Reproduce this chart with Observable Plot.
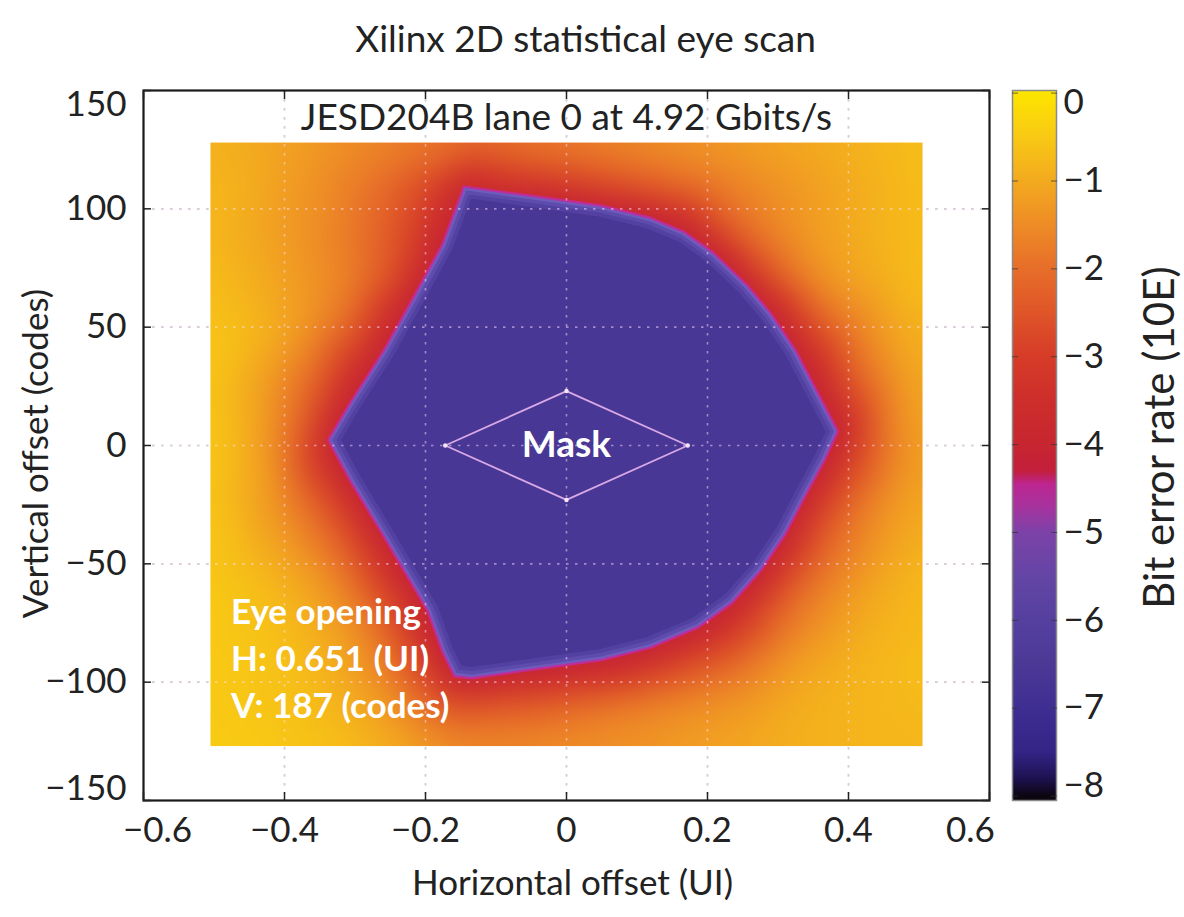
<!DOCTYPE html>
<html><head><meta charset="utf-8">
<script src="https://cdn.jsdelivr.net/npm/d3@7"></script>
<script src="https://cdn.jsdelivr.net/npm/@observablehq/plot@0.6"></script>
<style>
html,body{margin:0;padding:0;background:#fff;overflow:hidden;}
#wrap{position:relative;width:1184px;height:917px;}
#wrap svg{position:absolute;left:0;top:0;}
</style></head><body><div id="wrap"></div>
<script>
// ---------- texts ----------
const title = "Xilinx 2D statistical eye scan";
const subtitle = "JESD204B lane 0 at 4.92 Gbits/s";
const xLabel = "Horizontal offset (UI)";
const yLabel = "Vertical offset (codes)";
const cbLabel = "Bit error rate (10E)";
const eyeText = "Eye opening\nH: 0.651 (UI)\nV: 187 (codes)";
const maskText = "Mask";

// ---------- axes / ticks ----------
const xDomain = [-0.6, 0.6];
const yDomain = [-150, 150];
const cbDomain = [-8.05, 0.03];
const xTicks = [-0.6, -0.4, -0.2, 0, 0.2, 0.4, 0.6];
const yTicks = [-150, -100, -50, 0, 50, 100, 150];
const cbTicks = [-8, -7, -6, -5, -4, -3, -2, -1, 0];

// ---------- heat map samples: log10(BER), null = inside the eye ----------
const heatExtentX = [-0.505, 0.505];
const heatExtentY = [-127, 128];
const heatX = [-0.505, -0.45, -0.4, -0.35, -0.3, -0.25, -0.2, -0.15, -0.1, -0.05, 0, 0.05, 0.1, 0.15, 0.2, 0.25, 0.3, 0.35, 0.4, 0.45, 0.505];
const heatY = [128, 110, 90, 70, 50, 25, 0, -25, -50, -70, -90, -110, -127];
const _ = null;
const heatBER = [
  [-0.9, -1.0, -1.15, -1.3, -1.5, -1.65, -1.8, -1.9, -1.9, -1.8, -1.7, -1.6, -1.5, -1.4, -1.3, -1.2, -1.1, -1.0, -0.9, -0.8, -0.7],
  [-0.8, -0.95, -1.2, -1.45, -1.75, -2.15, -2.7, -3.7, -3.5, -3.2, -3.0, -2.7, -2.4, -2.1, -1.85, -1.6, -1.4, -1.2, -1.0, -0.85, -0.7],
  [-0.8, -1.0, -1.25, -1.5, -1.85, -2.4, -3.2, _, _, _, _, _, _, _, -3.2, -2.1, -1.6, -1.25, -1.0, -0.85, -0.7],
  [-0.7, -0.9, -1.15, -1.45, -1.75, -2.5, _, _, _, _, _, _, _, _, _, -4.1, -2.4, -1.5, -1.15, -0.9, -0.7],
  [-0.6, -0.75, -1.05, -1.55, -2.3, -3.9, _, _, _, _, _, _, _, _, _, _, _, -2.7, -1.8, -1.2, -0.85],
  [-0.55, -1.0, -1.6, -2.4, -3.9, _, _, _, _, _, _, _, _, _, _, _, _, -4.2, -2.6, -1.7, -1.0],
  [-0.5, -0.95, -1.8, -3.5, _, _, _, _, _, _, _, _, _, _, _, _, _, _, -3.3, -1.9, -1.1],
  [-0.55, -1.0, -1.5, -2.3, -3.6, _, _, _, _, _, _, _, _, _, _, _, _, -3.4, -2.1, -1.4, -1.0],
  [-0.55, -0.75, -1.0, -1.5, -2.3, -3.7, _, _, _, _, _, _, _, _, _, _, -3.6, -2.2, -1.6, -1.1, -0.8],
  [-0.5, -0.6, -0.75, -1.05, -1.6, -2.5, -4.2, _, _, _, _, _, _, _, _, -3.4, -2.2, -1.6, -1.15, -0.9, -0.75],
  [-0.5, -0.55, -0.65, -0.85, -1.2, -1.9, -3.1, _, _, _, _, _, -3.8, -3.2, -2.6, -2.1, -1.5, -1.1, -0.9, -0.8, -0.7],
  [-0.5, -0.55, -0.6, -0.75, -0.95, -1.3, -2.0, -2.6, -2.4, -2.3, -2.1, -1.9, -1.7, -1.55, -1.4, -1.3, -1.05, -0.9, -0.85, -0.8, -0.75],
  [-0.45, -0.5, -0.55, -0.6, -0.75, -0.9, -1.2, -1.45, -1.5, -1.5, -1.45, -1.4, -1.35, -1.25, -1.15, -1.05, -0.95, -0.9, -0.85, -0.8, -0.8]
];

// ---------- eye boundary ----------
const eyeX = [-0.146, -0.053, 0.050, 0.119, 0.167, 0.208, 0.256, 0.290, 0.325, 0.352, 0.385, 0.366, 0.338, 0.311, 0.276, 0.235, 0.187, 0.119, 0.050, -0.053, -0.135, -0.159, -0.176, -0.197, -0.231, -0.265, -0.307, -0.338, -0.307, -0.259, -0.217, -0.176, -0.149];
const eyeY = [109.4, 105.6, 101.3, 96.2, 90.2, 81.5, 67.8, 55.8, 40.2, 24.8, 6.0, -6.3, -21.7, -37.2, -52.7, -66.5, -76.8, -85.4, -90.6, -94.9, -98.3, -97.5, -87.2, -69.9, -52.7, -35.5, -14.8, 2.4, 17.9, 40.2, 62.6, 85.0, 106.5];
const eyeEdgeBER = -4.2;
const eyeInsideBER = -6.6;

// ---------- mask & annotation anchors ----------
const maskX = [-0.172, 0, 0.172, 0];
const maskY = [0, 23, 0, -23];
const maskLabelPos = [0, 0];
const eyeTextPos = [-0.476, -89];

// ---------- colour palette ----------
const colorDomain = [-8, -7.8, -7.5, -7, -6.5, -6, -5.5, -5, -4.7, -4.45, -4.3, -4, -3.5, -3, -2.5, -2, -1.5, -1, -0.5, 0];
const colorRange = ["#0b0610", "#1e1250", "#332486", "#3f2e92", "#4c3996", "#55409f", "#6445a5", "#7c42a8", "#a8339e", "#bd2690", "#c31f3c", "#c72630", "#cd2e2b", "#d63c28", "#df5528", "#e76e29", "#ee8c26", "#f3aa1f", "#f8c914", "#fde500"];

const FONT = "Lato, 'Open Sans', sans-serif";
const tickFont = 35;
const haloWide = "#7d6ad0", haloMid = "#8070d2", haloNarrow = "#8b7ad8";
const fmt = d3.format("");
const colorOpts = {type: "linear", domain: colorDomain, range: colorRange, clamp: true, interpolate: "rgb"};
const colorOf = d3.scaleLinear(colorDomain, colorRange).clamp(true);

// build tables
const heatPoints = [];
heatY.forEach((y, i) => heatX.forEach((x, j) => {
  const v = heatBER[i][j];
  if (v != null) heatPoints.push({x, y, v});
}));
const eye = eyeX.map((x, i) => ({x, y: eyeY[i]}));
eye.forEach(p => heatPoints.push({x: p.x, y: p.y, v: eyeEdgeBER}));
const mask = maskX.map((x, i) => ({x, y: maskY[i]}));

const innerX = xTicks.slice(1, -1), innerY = yTicks.slice(1, -1), innerCb = cbTicks.slice(1, -1);
const gridStyle = {strokeDasharray: "2.5,6.5", strokeWidth: 1.6};

const main = Plot.plot({
  width: 1184, height: 917,
  marginLeft: 143, marginRight: 195, marginTop: 90, marginBottom: 117,
  x: {domain: xDomain, axis: null},
  y: {domain: yDomain, axis: null},
  color: colorOpts,
  style: {fontFamily: FONT, background: "#fff", color: "#222"},
  marks: [
    Plot.gridX(innerX, {...gridStyle, stroke: "#b5b5b5", strokeOpacity: 1}),
    Plot.gridY(innerY, {...gridStyle, stroke: "#b5b5b5", strokeOpacity: 1}),
    Plot.raster(heatPoints, {x: "x", y: "y", fill: "v", interpolate: "barycentric", blur: 14,
      x1: heatExtentX[0], x2: heatExtentX[1], y1: heatExtentY[0], y2: heatExtentY[1]}),
    Plot.line(eye, {x: "x", y: "y", curve: "linear-closed", fill: colorOf(eyeInsideBER), stroke: "none"}),
    Plot.line(eye, {x: "x", y: "y", curve: "linear-closed", stroke: haloWide, strokeWidth: 22, strokeOpacity: 0.2}),
    Plot.line(eye, {x: "x", y: "y", curve: "linear-closed", stroke: haloMid, strokeWidth: 14, strokeOpacity: 0.25}),
    Plot.line(eye, {x: "x", y: "y", curve: "linear-closed", stroke: haloNarrow, strokeWidth: 7, strokeOpacity: 0.35}),
    Plot.line(eye, {x: "x", y: "y", curve: "linear-closed", stroke: "#c42a9c", strokeWidth: 2.5, strokeOpacity: 0.85}),
    Plot.gridX(innerX, {...gridStyle, stroke: "#ffe0ff", strokeOpacity: 0.5}),
    Plot.gridY(innerY, {...gridStyle, stroke: "#ffe0ff", strokeOpacity: 0.5}),
    Plot.line(mask, {x: "x", y: "y", curve: "linear-closed", stroke: "#d9a8e6", strokeWidth: 1.8}),
    Plot.dot(mask, {x: "x", y: "y", r: 2.2, fill: "#f3e6f7"}),
    Plot.text([maskText], {x: maskLabelPos[0], y: maskLabelPos[1], fill: "white", fontWeight: "bold", fontSize: 37}),
    Plot.text([eyeText], {x: eyeTextPos[0], y: eyeTextPos[1], fill: "white", fontWeight: "bold", fontSize: 35, textAnchor: "start", lineAnchor: "middle", lineHeight: 1.34}),
    Plot.text([subtitle], {frameAnchor: "top", dy: 13, fontSize: 37, fill: "#222", textAnchor: "middle"}),
    Plot.frame({stroke: "#1a1a1a", strokeWidth: 2.2}),
    Plot.axisX(xTicks, {anchor: "bottom", tickSize: -8, tickFormat: () => "", label: null, strokeWidth: 1.5}),
    Plot.axisX(xTicks, {anchor: "top", tickSize: -8, tickFormat: () => "", label: null, strokeWidth: 1.5}),
    Plot.axisY(yTicks, {anchor: "left", tickSize: -8, tickFormat: () => "", label: null, strokeWidth: 1.5}),
    Plot.axisY(yTicks, {anchor: "right", tickSize: -8, tickFormat: () => "", label: null, strokeWidth: 1.5}),
    Plot.axisX(innerX, {anchor: "bottom", tickSize: 0, tickPadding: 17, fontSize: tickFont, tickFormat: fmt, label: null, fill: "#222"}),
    Plot.axisY(innerY, {anchor: "left", tickSize: 0, tickPadding: 17, fontSize: tickFont, tickFormat: fmt, label: null, fill: "#222"}),
    Plot.text([xTicks[0]], {x: d => d, y: yDomain[0], text: fmt, dy: 17, dx: 14, lineAnchor: "top", fontSize: tickFont, fill: "#222"}),
    Plot.text([xTicks[xTicks.length - 1]], {x: d => d, y: yDomain[0], text: fmt, dy: 17, dx: -19, lineAnchor: "top", fontSize: tickFont, fill: "#222"}),
    Plot.text([yTicks[0]], {x: xDomain[0], y: d => d, text: fmt, dx: -17, dy: -12, textAnchor: "end", fontSize: tickFont, fill: "#222"}),
    Plot.text([yTicks[yTicks.length - 1]], {x: xDomain[0], y: d => d, text: fmt, dx: -17, dy: 14, textAnchor: "end", fontSize: tickFont, fill: "#222"}),
    Plot.text([xLabel], {frameAnchor: "bottom", dy: 94, dx: 6, fontSize: 35, fill: "#222", textAnchor: "middle"}),
    Plot.text([yLabel], {frameAnchor: "left", dx: -107, dy: 8, rotate: -90, fontSize: 35, fill: "#222", textAnchor: "middle"}),
    Plot.text([title], {frameAnchor: "top", dy: -65, dx: 19, fontSize: 37, fill: "#222", textAnchor: "middle"})
  ]
});

// clip the halo strokes to the inside of the eye (so the lighter rim lies inside the edge)
const ns = "http://www.w3.org/2000/svg";
const haloColors = [haloWide, haloMid, haloNarrow];
const halos = Array.from(main.querySelectorAll("g")).filter(g => haloColors.includes((g.getAttribute("stroke") || "").toLowerCase()));
if (halos.length) {
  const d = halos[0].querySelector("path").getAttribute("d");
  const defs = document.createElementNS(ns, "defs");
  const cp = document.createElementNS(ns, "clipPath");
  cp.setAttribute("id", "eyeclip");
  const p = document.createElementNS(ns, "path");
  p.setAttribute("d", d);
  cp.appendChild(p); defs.appendChild(cp);
  main.insertBefore(defs, main.firstChild);
  halos.forEach(g => g.setAttribute("clip-path", "url(#eyeclip)"));
}

const cb = Plot.plot({
  width: 1184, height: 917,
  marginLeft: 1012, marginRight: 128, marginTop: 90, marginBottom: 117,
  x: {domain: [0, 1], axis: null},
  y: {domain: cbDomain, axis: null},
  color: colorOpts,
  style: {fontFamily: FONT, background: "transparent", color: "#222"},
  marks: [
    Plot.raster({fill: (x, y) => y, x1: 0, x2: 1, y1: cbDomain[0], y2: cbDomain[1]}),
    Plot.frame({stroke: "#8a8a8a", strokeWidth: 1.5}),
    Plot.axisY(cbTicks, {anchor: "left", tickSize: -6, tickFormat: () => "", label: null, stroke: "#333", strokeOpacity: 0.7}),
    Plot.axisY(cbTicks, {anchor: "right", tickSize: -6, tickFormat: () => "", label: null, stroke: "#333", strokeOpacity: 0.7}),
    Plot.axisY(innerCb, {anchor: "right", tickSize: 0, tickPadding: 7, fontSize: tickFont, tickFormat: fmt, label: null, fill: "#222"}),
    Plot.text([cbTicks[0]], {x: 1, y: d => d, text: fmt, dx: 7, dy: -10, textAnchor: "start", fontSize: tickFont, fill: "#222"}),
    Plot.text([cbTicks[cbTicks.length - 1]], {x: 1, y: d => d, text: fmt, dx: 7, dy: 10, textAnchor: "start", fontSize: tickFont, fill: "#222"}),
    Plot.text([cbLabel], {frameAnchor: "right", dx: 104, dy: -8, rotate: -90, fontSize: 42, fill: "#222", textAnchor: "middle"})
  ]
});
cb.style.pointerEvents = "none";

const wrap = document.getElementById("wrap");
wrap.appendChild(main);
wrap.appendChild(cb);
</script></body></html>
